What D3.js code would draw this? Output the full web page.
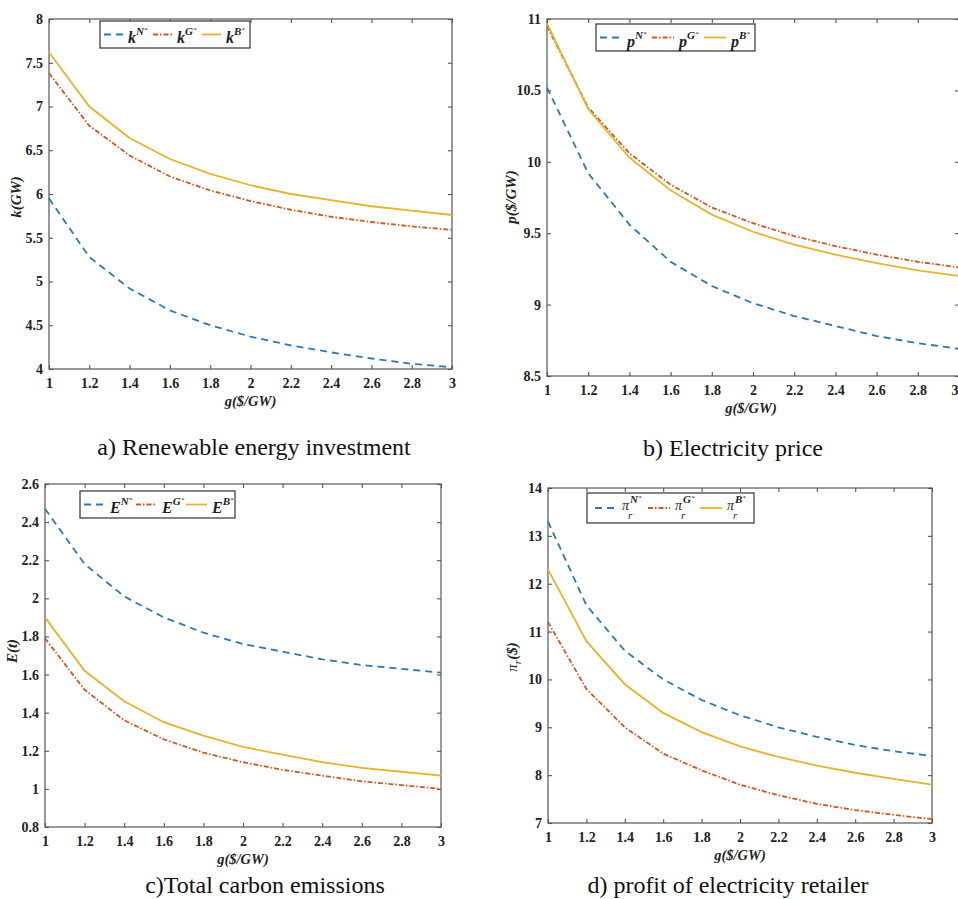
<!DOCTYPE html>
<html>
<head>
<meta charset="utf-8">
<script src="https://cdn.jsdelivr.net/npm/d3@7"></script>
<style>
  html,body{margin:0;padding:0;background:#fff;}
  svg{display:block;}
</style>
</head>
<body>
<svg id="chart" width="958" height="899"></svg>
<script>
// ---------- DATA ----------
const g = [1, 1.2, 1.4, 1.6, 1.8, 2.0, 2.2, 2.4, 2.6, 2.8, 3.0];
const xTicks = [1, 1.2, 1.4, 1.6, 1.8, 2, 2.2, 2.4, 2.6, 2.8, 3];

// a) Renewable energy investment
const kN = [5.95, 5.28, 4.92, 4.67, 4.50, 4.37, 4.27, 4.19, 4.12, 4.06, 4.02];
const kG = [7.38, 6.78, 6.44, 6.20, 6.04, 5.92, 5.82, 5.74, 5.68, 5.63, 5.59];
const kB = [7.62, 7.00, 6.64, 6.40, 6.23, 6.10, 6.00, 5.93, 5.86, 5.81, 5.76];
const kTicks = [4, 4.5, 5, 5.5, 6, 6.5, 7, 7.5, 8];

// b) Electricity price
const pN = [10.52, 9.92, 9.56, 9.30, 9.13, 9.01, 8.92, 8.85, 8.78, 8.73, 8.69];
const pG = [10.95, 10.38, 10.06, 9.84, 9.68, 9.57, 9.48, 9.41, 9.35, 9.30, 9.26];
const pB = [10.97, 10.37, 10.03, 9.80, 9.63, 9.51, 9.42, 9.35, 9.29, 9.24, 9.20];
const pTicks = [8.5, 9, 9.5, 10, 10.5, 11];

// c) Total carbon emissions
const EN = [2.47, 2.18, 2.01, 1.90, 1.82, 1.76, 1.72, 1.68, 1.65, 1.63, 1.61];
const EG = [1.79, 1.52, 1.36, 1.26, 1.19, 1.14, 1.10, 1.07, 1.04, 1.02, 1.00];
const EB = [1.90, 1.62, 1.46, 1.35, 1.28, 1.22, 1.18, 1.14, 1.11, 1.09, 1.07];
const ETicks = [0.8, 1, 1.2, 1.4, 1.6, 1.8, 2, 2.2, 2.4, 2.6];

// d) profit of electricity retailer
const rN = [13.30, 11.55, 10.60, 10.00, 9.57, 9.25, 9.00, 8.80, 8.63, 8.50, 8.40];
const rG = [11.20, 9.80, 9.00, 8.45, 8.10, 7.80, 7.58, 7.40, 7.27, 7.17, 7.08];
const rB = [12.30, 10.80, 9.90, 9.30, 8.90, 8.60, 8.38, 8.20, 8.05, 7.92, 7.80];
const rTicks = [7, 8, 9, 10, 11, 12, 13, 14];

const seriesNames = ["N", "G", "B"];
const captions = ["a)  Renewable energy investment", "b) Electricity price", "c)Total carbon emissions", "d) profit of electricity retailer"];

// ---------- STYLE ----------
const colors = {N: "#2a78b4", G: "#d4561e", B: "#e6b42a"};
const dashes = {N: "7,5", G: "5,2,1.5,2", B: null};
const svg = d3.select("#chart");
const serif = "'Liberation Serif','Times New Roman',serif";

function panel(cfg) {
  const x = d3.scaleLinear().domain([1, 3]).range([cfg.l, cfg.r]);
  const y = d3.scaleLinear().domain(cfg.yDomain).range([cfg.b, cfg.t]);
  const G0 = svg.append("g");

  // box
  G0.append("rect").attr("x", cfg.l).attr("y", cfg.t)
    .attr("width", cfg.r - cfg.l).attr("height", cfg.b - cfg.t)
    .attr("fill", "none").attr("stroke", "#555").attr("stroke-width", 1.2);

  const tickStyle = sel => {
    sel.select(".domain").remove();
    sel.selectAll("line").attr("stroke", "#555").attr("stroke-width", 1.1);
    sel.selectAll("text").attr("font-family", serif).attr("font-weight", "bold")
      .attr("font-size", 14).attr("fill", "#222");
  };
  // bottom
  const bx = G0.append("g").attr("transform", `translate(0,${cfg.b})`)
    .call(d3.axisBottom(x).tickValues(xTicks).tickSize(-4).tickPadding(9).tickFormat(d3.format("~g")))
    .call(tickStyle);
  if (cfg.r > 950) {
    bx.selectAll(".tick").filter(d => d === 3).select("text")
      .attr("text-anchor", "end").attr("dx", 958 - cfg.r);
  }
  // top
  G0.append("g").attr("transform", `translate(0,${cfg.t})`)
    .call(d3.axisTop(x).tickValues(xTicks).tickSize(-4).tickFormat(""))
    .call(tickStyle);
  // left
  G0.append("g").attr("transform", `translate(${cfg.l},0)`)
    .call(d3.axisLeft(y).tickValues(cfg.yTicks).tickSize(-4).tickPadding(6).tickFormat(d3.format("~g")))
    .call(tickStyle);
  // right
  G0.append("g").attr("transform", `translate(${cfg.r},0)`)
    .call(d3.axisRight(y).tickValues(cfg.yTicks).tickSize(-4).tickFormat(""))
    .call(tickStyle);

  // lines
  const line = d3.line().x((d, i) => x(g[i])).y(d => y(d));
  seriesNames.forEach(s => {
    G0.append("path").datum(cfg.data[s]).attr("d", line)
      .attr("fill", "none").attr("stroke", colors[s]).attr("stroke-width", 1.8)
      .attr("stroke-dasharray", dashes[s]);
  });

  // x label
  G0.append("text").attr("x", (cfg.l + cfg.r) / 2 + (cfg.xlabDx || 0)).attr("y", cfg.b + 37)
    .attr("text-anchor", "middle").attr("font-family", serif).attr("font-style", "italic")
    .attr("font-weight", "bold").attr("font-size", 14.5).attr("fill", "#222").text("g($/GW)");

  // y label
  const yl = G0.append("text").attr("transform", `translate(${cfg.ylx},${cfg.yly}) rotate(-90)`)
    .attr("text-anchor", "middle").attr("font-family", serif).attr("font-style", "italic")
    .attr("font-weight", "bold").attr("font-size", 15).attr("fill", "#222");
  cfg.ylabel(yl);

  // legend
  const L = cfg.leg;
  G0.append("rect").attr("x", L.x).attr("y", L.y).attr("width", L.w).attr("height", L.h)
    .attr("fill", "#fff").attr("stroke", "#333").attr("stroke-width", 1.2);
  seriesNames.forEach((s, i) => {
    const ox = L.x + L.offs[i];
    const cy = L.y + L.h / 2;
    G0.append("line").attr("x1", ox).attr("x2", ox + L.seg).attr("y1", cy).attr("y2", cy)
      .attr("stroke", colors[s]).attr("stroke-width", 1.8).attr("stroke-dasharray", dashes[s]);
    const t = G0.append("text").attr("x", ox + L.seg + 5).attr("y", cy + L.baseDy)
      .attr("font-family", serif).attr("font-style", "italic").attr("font-weight", "bold")
      .attr("font-size", 16).attr("fill", "#222");
    cfg.legText(t, s, ox + L.seg + 5, cy);
  });

  // caption
  svg.append("text").attr("x", cfg.capX).attr("y", cfg.capY).attr("text-anchor", "middle")
    .attr("font-family", serif).attr("font-size", 24).attr("fill", "#111").text(cfg.caption);
}

function supLabel(letter) {
  return (t, s) => {
    t.append("tspan").text(letter);
    t.append("tspan").attr("dy", -8).attr("font-size", 11).text(s);
    t.append("tspan").attr("dy", -3).attr("font-size", 7).attr("font-weight", "normal").text("*");
  };
}

panel({
  l: 49, r: 452, t: 19, b: 369, yDomain: [4, 8], yTicks: kTicks,
  data: {N: kN, G: kG, B: kB},
  ylx: 21, yly: 197, ylabel: t => t.text("k(GW)"),
  leg: {x: 100, y: 21, w: 150, h: 27, seg: 19, offs: [4, 53, 102], baseDy: 8},
  legText: supLabel("k"),
  caption: captions[0], capX: 254, capY: 455
});

panel({
  l: 547, r: 959, t: 19, b: 376, yDomain: [8.5, 11], yTicks: pTicks,
  data: {N: pN, G: pG, B: pB},
  ylx: 516, yly: 197, ylabel: t => t.text("p($/GW)"),
  xlabDx: -2,
  leg: {x: 596, y: 24, w: 159, h: 27, seg: 22, offs: [4, 56, 108], baseDy: 9},
  legText: supLabel("p"),
  caption: captions[1], capX: 733, capY: 456
});

panel({
  l: 45, r: 441, t: 484, b: 827, yDomain: [0.8, 2.6], yTicks: ETicks,
  data: {N: EN, G: EG, B: EB},
  ylx: 17, yly: 651, ylabel: t => t.text("E(t)"),
  leg: {x: 80, y: 491, w: 155, h: 27, seg: 21, offs: [4, 56, 106], baseDy: 8},
  legText: supLabel("E"),
  caption: captions[2], capX: 265, capY: 893
});

panel({
  l: 548, r: 932, t: 488, b: 823, yDomain: [7, 14], yTicks: rTicks,
  data: {N: rN, G: rG, B: rB},
  ylx: 517, yly: 657,
  ylabel: t => {
    t.attr("font-weight", "normal");
    t.append("tspan").text("π");
    t.append("tspan").attr("dy", 4).attr("font-size", 11).text("r");
    t.append("tspan").attr("dy", -4).attr("font-weight", "bold").text("($)");
  },
  leg: {x: 587, y: 493, w: 167, h: 30, seg: 22, offs: [8, 61, 113], baseDy: 2},
  legText: (t, s, tx, cy) => {
    t.attr("font-weight", "normal").attr("font-size", 14);
    t.append("tspan").text("π");
    t.append("tspan").attr("x", tx + 8).attr("y", cy - 5).attr("font-size", 11).attr("font-weight", "bold").text(s);
    t.append("tspan").attr("dy", -3).attr("font-size", 7).text("*");
    t.append("tspan").attr("x", tx + 6).attr("y", cy + 11).attr("font-size", 11).text("r");
  },
  caption: captions[3], capX: 728, capY: 893
});
</script>
</body>
</html>
